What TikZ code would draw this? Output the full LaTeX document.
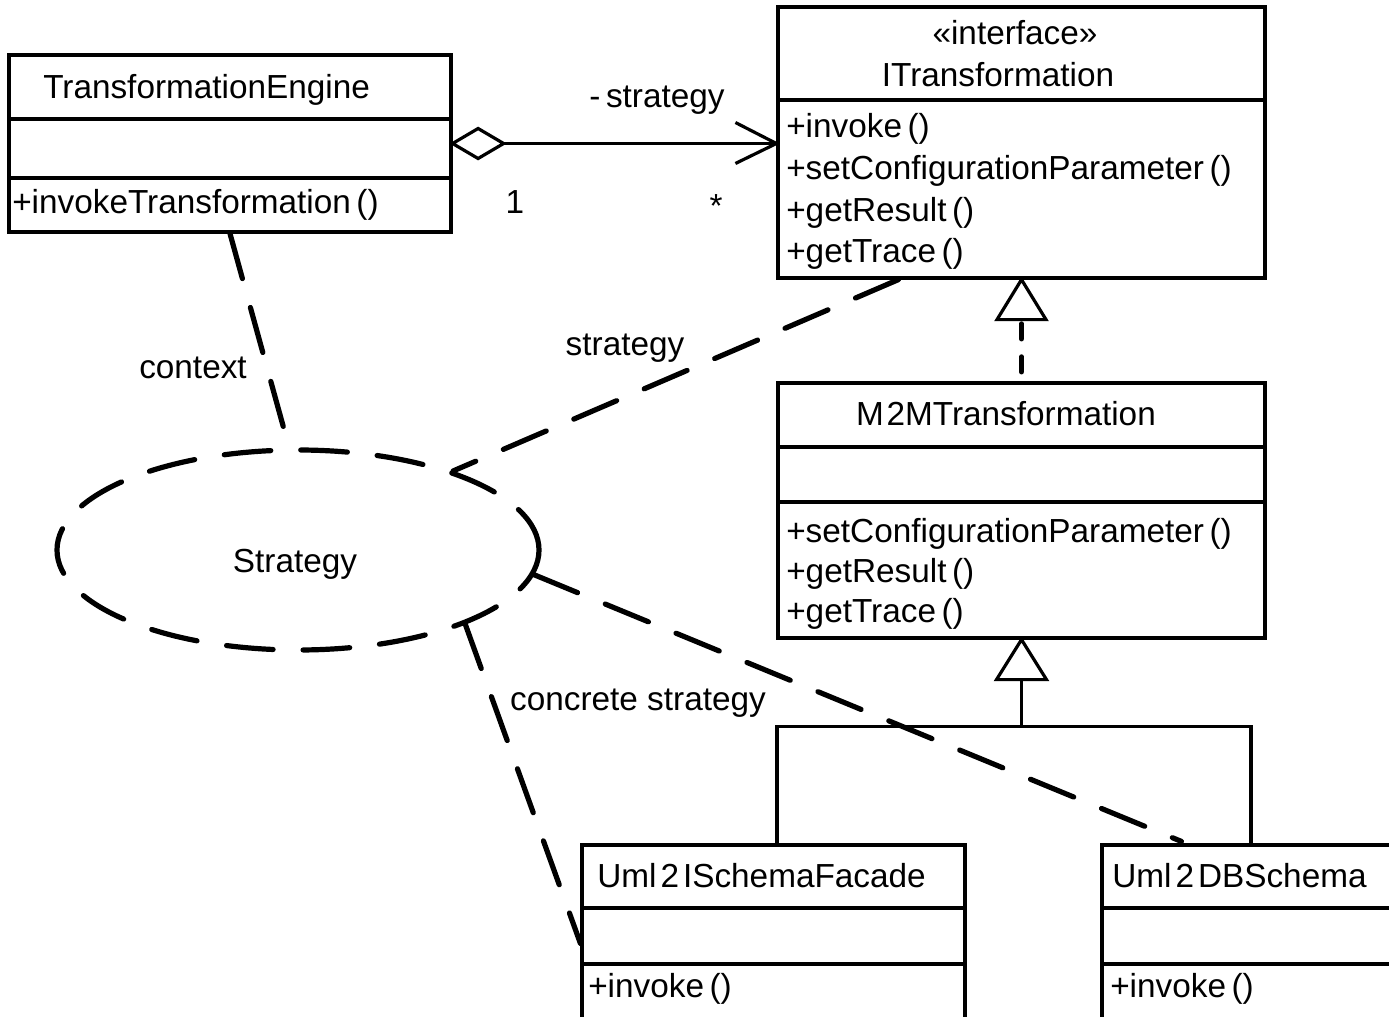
\documentclass[tikz,border=0pt]{standalone}
\usepackage{fontspec}
\setmainfont{Liberation Sans}
\usetikzlibrary{shapes.geometric,fit,calc}
\begin{document}
\begin{tikzpicture}[x=0.75pt,y=-0.75pt,
  box/.style={draw, line width=2.4pt, inner sep=0pt, rectangle},
  sep/.style={line width=2.4pt},
  solidline/.style={line width=2.4pt},
  txt/.style={inner sep=0pt, font=\fontsize{25}{30}\selectfont, anchor=base west},
  ctxt/.style={txt, anchor=base},
  bigdash/.style={line width=3.9pt, line cap=round, dash pattern=on 35pt off 22.5pt},
  realdash/.style={line width=3.9pt, line cap=round, dash pattern=on 11.25pt off 13.5pt, dash phase=17.6pt}
]
\fill[white] (0,0) rectangle (1389,1017);
\clip (0,0) rectangle (1389,1017);

% --- TransformationEngine
\node[box, fit={(9,55)(451,232)}] (te) {};
\draw[sep] (9,119) -- (451,119);
\draw[sep] (9,178) -- (451,178);
\node[txt] (teName) at (43,98) {TransformationEngine};
\node[txt] (teOp) at (12,213) {+invokeTransformation\,()};

% --- ITransformation
\node[box, fit={(778,7)(1265,278)}] (it) {};
\draw[sep] (778,100) -- (1265,100);
\node[ctxt] (itSt) at (1015,44) {«interface»};
\node[ctxt] (itName) at (998,86) {ITransformation};
\node[txt] (itOp1) at (786,137) {+invoke\,()};
\node[txt] (itOp2) at (786,179) {+setConfigurationParameter\,()};
\node[txt] (itOp3) at (786,221) {+getResult\,()};
\node[txt] (itOp4) at (786,262) {+getTrace\,()};

% --- M2MTransformation
\node[box, fit={(778,383)(1265,638)}] (m2m) {};
\draw[sep] (778,447) -- (1265,447);
\draw[sep] (778,502) -- (1265,502);
\node[ctxt] (m2mName) at (1006,425) {M\kern2pt 2MTransformation};
\node[txt] (m2mOp1) at (786,542) {+setConfigurationParameter\,()};
\node[txt] (m2mOp2) at (786,582) {+getResult\,()};
\node[txt] (m2mOp3) at (786,622) {+getTrace\,()};

% --- Uml2ISchemaFacade
\node[box, fit={(582,845)(965,1040)}] (u1) {};
\draw[sep] (582,908) -- (965,908);
\draw[sep] (582,964) -- (965,964);
\node[txt] (u1Name) at (597,887) {Uml\kern3pt 2\kern3pt ISchemaFacade};
\node[txt] (u1Op) at (588,997) {+invoke\,()};

% --- Uml2DBSchema
\node[box, fit={(1102,845)(1420,1040)}] (u2) {};
\draw[sep] (1102,908) -- (1420,908);
\draw[sep] (1102,964) -- (1420,964);
\node[txt] (u2Name) at (1112,887) {Uml\kern3pt 2\kern3pt DBSchema};
\node[txt] (u2Op) at (1110,997) {+invoke\,()};

% --- Strategy collaboration
\node[ellipse, draw, bigdash, minimum width=361.5pt, minimum height=150pt, inner sep=0pt] (strat) at (298,550) {};
\node[ctxt] (stratName) at (295,572) {Strategy};

% --- aggregation
\coordinate (aggEnd) at (it.west |- te.east);
\draw[solidline, fill=white] (te.east) -- ++(25.5,-15) -- ++(25.5,15) -- ++(-25.5,15) -- cycle;
\draw[solidline] ($(te.east)+(51,0)$) -- (aggEnd);
\draw[solidline] ($(aggEnd)+(-41,-21)$) -- (aggEnd) -- ($(aggEnd)+(-41,20)$);
\node[ctxt] (roleName) at (657,107) {-\,strategy};
\node[ctxt] (mult1) at (515,213) {1};
\node[ctxt] (multN) at (716,217) {*};

% --- realization
\draw[solidline, fill=white] (it.south) -- ++(-24.5,40) -- ++(49,0) -- cycle;
\draw[realdash] (m2m.north) -- ($(it.south)+(0,40)$);

% --- generalization
\draw[solidline, fill=white] (m2m.south) -- ++(-25,40) -- ++(50,0) -- cycle;
\coordinate (jn) at ($(m2m.south)+(0,87)$);
\coordinate (g1) at (777,845);
\coordinate (g2) at (1251,845);
\draw[solidline] ($(m2m.south)+(0,40)$) -- (jn);
\draw[solidline] (g1) |- (jn) -| (g2);

% --- collaboration role connectors
\draw[bigdash] (te.south) -- (strat.95);
\draw[bigdash] ($(it.south west)+(122,0)$) -- (strat.27.5);
\draw[bigdash] (strat.354.7) -- ($(u2.north west)+(81,-2)$);
\draw[bigdash] (strat.336) -- ($(u1.north west)+(0,100)$);

\node[ctxt] (lblContext) at (193,378) {context};
\node[ctxt] (lblStrategy) at (625,355) {strategy};
\node[ctxt] (lblConcrete) at (638,710) {concrete strategy};
\end{tikzpicture}
\end{document}
